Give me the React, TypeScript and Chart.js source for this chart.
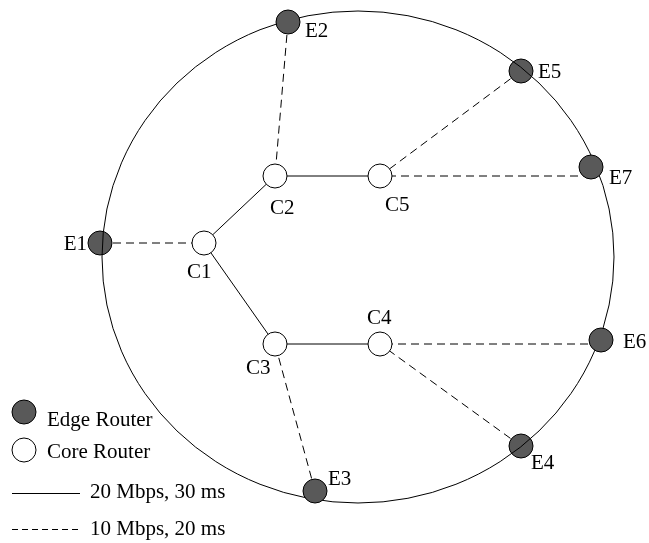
import React, { useEffect, useRef } from 'react';
import { Chart, registerables } from 'chart.js';

Chart.register(...registerables);

// ---- data ----
const nodeNames = ['E1', 'E2', 'E3', 'E4', 'E5', 'E6', 'E7', 'C1', 'C2', 'C3', 'C4', 'C5'];
const nodeX = [100, 288, 315, 521, 521, 601, 591, 204, 275, 275, 380, 380];
const nodeY = [243, 22, 491, 446, 71, 340, 167, 243, 176, 344, 344, 176];
const edgeRouters = ['E1', 'E2', 'E3', 'E4', 'E5', 'E6', 'E7'];
const coreRouters = ['C1', 'C2', 'C3', 'C4', 'C5'];
const solidLinks: [string, string][] = [['C1', 'C2'], ['C1', 'C3'], ['C2', 'C5'], ['C3', 'C4']];
const dashedLinks: [string, string][] = [
  ['E1', 'C1'], ['E2', 'C2'], ['E3', 'C3'], ['E4', 'C4'], ['E5', 'C5'], ['E6', 'C4'], ['E7', 'C5'],
];
// links drawn level with their core router (run horizontally to the edge router)
const levelLinks = ['E6-C4', 'E7-C5'];
const legendLabels = ['Edge Router', 'Core Router', '20 Mbps, 30 ms', '10 Mbps, 20 ms'];
const ringCenter = [358, 257];
const ringRadii = [256, 246];
const ringOverNodes = ['E1', 'E4', 'E5'];

// ---- layout / style ----
const W = 649;
const H = 543;
const NODE_R = 12;
const EDGE_FILL = '#595959';
const FONT = '21px "Liberation Serif", "Times New Roman", serif';
const labelPos: Record<string, [number, number, CanvasTextAlign]> = {
  E1: [87, 250, 'right'],
  E2: [305, 37, 'left'],
  E3: [328, 485, 'left'],
  E4: [531, 469, 'left'],
  E5: [538, 78, 'left'],
  E6: [623, 348, 'left'],
  E7: [609, 184, 'left'],
  C1: [187, 278, 'left'],
  C2: [270, 214, 'left'],
  C3: [246, 374, 'left'],
  C4: [367, 324, 'left'],
  C5: [385, 211, 'left'],
};

const pt = (name: string) => {
  const i = nodeNames.indexOf(name);
  return { x: nodeX[i], y: nodeY[i] };
};

export default function App() {
  const ref = useRef<HTMLCanvasElement | null>(null);

  useEffect(() => {
    if (!ref.current) return;

    const linkSets = [
      ...solidLinks.map(([a, b]) => ({ link: [a, b], dash: [] as number[] })),
      ...dashedLinks.map(([a, b]) => ({ link: [a, b], dash: [8, 5] })),
    ].map(({ link, dash }) => {
      const a = pt(link[0]);
      const b = pt(link[1]);
      const name = link.join('-');
      const start = levelLinks.includes(name) ? { x: a.x, y: b.y } : a;
      return {
        type: 'line' as const,
        label: name,
        data: [start, b],
        borderColor: '#000',
        borderWidth: 1,
        borderDash: dash,
        pointRadius: 0,
        showLine: true,
        fill: false,
        order: 2,
      };
    });

    const ringGeom = (chart: any) => {
      const { scales } = chart;
      const cx = scales.x.getPixelForValue(ringCenter[0]);
      const cy = scales.y.getPixelForValue(ringCenter[1]);
      const rx = Math.abs(scales.x.getPixelForValue(ringCenter[0] + ringRadii[0]) - cx);
      const ry = Math.abs(scales.y.getPixelForValue(ringCenter[1] + ringRadii[1]) - cy);
      return { cx, cy, rx, ry };
    };

    const ringPlugin = {
      id: 'ring',
      beforeDatasetsDraw(chart: any) {
        const { ctx } = chart;
        const { cx, cy, rx, ry } = ringGeom(chart);
        ctx.save();
        ctx.beginPath();
        ctx.ellipse(cx, cy, rx, ry, 0, 0, Math.PI * 2);
        ctx.strokeStyle = '#000';
        ctx.lineWidth = 1;
        ctx.stroke();
        ctx.restore();
      },
      afterDatasetsDraw(chart: any) {
        const { ctx, scales } = chart;
        const { cx, cy, rx, ry } = ringGeom(chart);
        ctx.save();
        ctx.beginPath();
        ringOverNodes.forEach((n) => {
          const p = pt(n);
          const px = scales.x.getPixelForValue(p.x);
          const py = scales.y.getPixelForValue(p.y);
          ctx.moveTo(px + NODE_R, py);
          ctx.arc(px, py, NODE_R, 0, Math.PI * 2);
        });
        ctx.clip();
        ctx.beginPath();
        ctx.ellipse(cx, cy, rx, ry, 0, 0, Math.PI * 2);
        ctx.strokeStyle = '#000';
        ctx.lineWidth = 1;
        ctx.stroke();
        ctx.restore();
      },
      afterDraw(chart: any) {
        const { ctx } = chart;
        ctx.save();
        ctx.font = FONT;
        ctx.fillStyle = '#000';
        ctx.textBaseline = 'alphabetic';
        nodeNames.forEach((n) => {
          const [lx, ly, align] = labelPos[n];
          ctx.textAlign = align;
          ctx.fillText(n, lx, ly);
        });
        // legend
        ctx.textAlign = 'left';
        const legendMarkerY = [412, 450, 493, 529];
        const legendTextY = [426, 458, 498, 535];
        ctx.beginPath();
        ctx.arc(24, legendMarkerY[0], NODE_R, 0, Math.PI * 2);
        ctx.fillStyle = EDGE_FILL;
        ctx.fill();
        ctx.strokeStyle = '#000';
        ctx.lineWidth = 1;
        ctx.stroke();
        ctx.beginPath();
        ctx.arc(24, legendMarkerY[1], NODE_R, 0, Math.PI * 2);
        ctx.fillStyle = '#fff';
        ctx.fill();
        ctx.stroke();
        ctx.beginPath();
        ctx.setLineDash([]);
        ctx.moveTo(12, legendMarkerY[2] + 0.5);
        ctx.lineTo(80, legendMarkerY[2] + 0.5);
        ctx.stroke();
        ctx.beginPath();
        ctx.setLineDash([6, 4]);
        ctx.moveTo(12, legendMarkerY[3] + 0.5);
        ctx.lineTo(80, legendMarkerY[3] + 0.5);
        ctx.stroke();
        ctx.setLineDash([]);
        ctx.fillStyle = '#000';
        ctx.fillText(legendLabels[0], 47, legendTextY[0]);
        ctx.fillText(legendLabels[1], 47, legendTextY[1]);
        ctx.fillText(legendLabels[2], 90, legendTextY[2]);
        ctx.fillText(legendLabels[3], 90, legendTextY[3]);
        ctx.restore();
      },
    };

    const chart = new Chart(ref.current, {
      type: 'scatter',
      data: {
        datasets: [
          {
            label: 'Edge Router',
            data: edgeRouters.map(pt),
            pointRadius: NODE_R,
            pointHoverRadius: NODE_R,
            backgroundColor: EDGE_FILL,
            borderColor: '#000',
            borderWidth: 1,
            order: 0,
          },
          {
            label: 'Core Router',
            data: coreRouters.map(pt),
            pointRadius: NODE_R,
            pointHoverRadius: NODE_R,
            backgroundColor: '#fff',
            borderColor: '#000',
            borderWidth: 1,
            order: 0,
          },
          ...linkSets,
        ] as any,
      },
      options: {
        animation: false,
        responsive: false,
        events: [],
        layout: { padding: 0, autoPadding: false },
        plugins: { legend: { display: false }, tooltip: { enabled: false } },
        scales: {
          x: { type: 'linear', min: 0, max: W, display: false },
          y: { type: 'linear', min: 0, max: H, reverse: true, display: false },
        },
      },
      plugins: [ringPlugin],
    });

    return () => chart.destroy();
  }, []);

  return (
    <div style={{ position: 'absolute', left: 0, top: 0, width: W, height: H, background: '#fff' }}>
      <canvas ref={ref} width={W} height={H} style={{ display: 'block' }} />
    </div>
  );
}
